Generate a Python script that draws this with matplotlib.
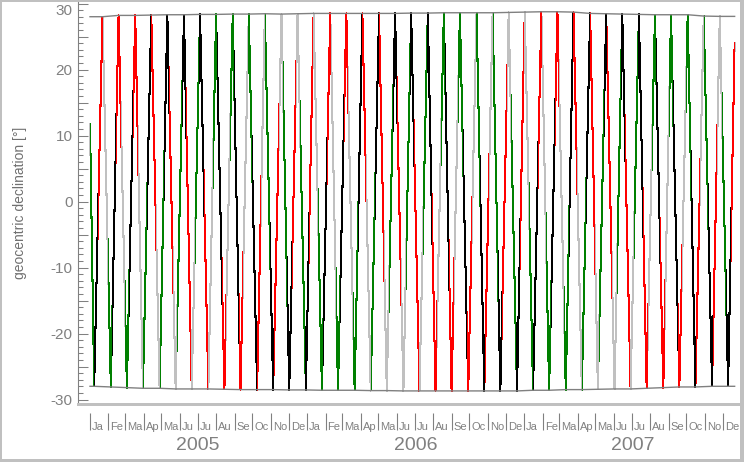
import numpy as np
import matplotlib
matplotlib.use('Agg')
import matplotlib.pyplot as plt
from matplotlib.path import Path
from matplotlib.patches import Rectangle
from matplotlib.ticker import MultipleLocator

# Moon's geocentric declination 2005-2007: dates and values of the turning points
peak_dates = ['2005-01-22', '2005-02-18', '2005-03-18', '2005-04-14', '2005-05-11', '2005-06-08',
              '2005-07-05', '2005-08-01', '2005-08-29', '2005-09-25', '2005-10-22', '2005-11-19',
              '2005-12-16', '2006-01-12', '2006-02-09', '2006-03-08', '2006-04-04', '2006-05-02',
              '2006-05-29', '2006-06-25', '2006-07-23', '2006-08-19', '2006-09-15', '2006-10-13',
              '2006-11-09', '2006-12-06', '2007-01-02', '2007-01-30', '2007-02-26', '2007-03-25',
              '2007-04-22', '2007-05-19', '2007-06-15', '2007-07-13', '2007-08-09', '2007-09-05',
              '2007-10-03', '2007-10-30', '2007-11-26']
peak_decl = [28.0, 28.2, 28.2, 28.25, 28.3, 28.3, 28.35, 28.35, 28.4, 28.4, 28.45, 28.4, 28.45,
             28.5, 28.5, 28.5, 28.5, 28.5, 28.5, 28.55, 28.55, 28.6, 28.6, 28.6, 28.6, 28.65,
             28.7, 28.75, 28.75, 28.7, 28.5, 28.45, 28.4, 28.35, 28.3, 28.3, 28.3, 28.1, 28.05]
trough_dates = ['2005-01-08', '2005-02-05', '2005-03-04', '2005-03-31', '2005-04-28', '2005-05-25',
                '2005-06-21', '2005-07-19', '2005-08-15', '2005-09-11', '2005-10-09', '2005-11-05',
                '2005-12-02', '2005-12-30', '2006-01-26', '2006-02-22', '2006-03-22', '2006-04-18',
                '2006-05-15', '2006-06-12', '2006-07-09', '2006-08-05', '2006-09-01', '2006-09-29',
                '2006-10-26', '2006-11-22', '2006-12-20', '2007-01-16', '2007-02-12', '2007-03-12',
                '2007-04-08', '2007-05-05', '2007-06-02', '2007-06-29', '2007-07-26', '2007-08-23',
                '2007-09-19', '2007-10-16', '2007-11-13', '2007-12-10']
trough_decl = [-28.0, -28.1, -28.2, -28.3, -28.3, -28.4, -28.4, -28.4, -28.45, -28.5,
               -28.5, -28.5, -28.55, -28.55, -28.6, -28.6, -28.6, -28.65, -28.65, -28.7,
               -28.7, -28.7, -28.7, -28.7, -28.7, -28.7, -28.7, -28.6, -28.6, -28.5,
               -28.5, -28.45, -28.4, -28.4, -28.3, -28.2, -28.1, -28.1, -28.0, -28.0]
start_date, start_decl = '2005-01-01', 11.8
end_date, end_decl = '2007-12-21', 24.0

# lunar phases; the curve is coloured by the nearest principal phase
new_moons = ['2005-01-10', '2005-02-08', '2005-03-10', '2005-04-08', '2005-05-08', '2005-06-06',
             '2005-07-06', '2005-08-05', '2005-09-03', '2005-10-03', '2005-11-02', '2005-12-01',
             '2005-12-31', '2006-01-29', '2006-02-28', '2006-03-29', '2006-04-27', '2006-05-27',
             '2006-06-25', '2006-07-25', '2006-08-23', '2006-09-22', '2006-10-22', '2006-11-20',
             '2006-12-20', '2007-01-19', '2007-02-17', '2007-03-19', '2007-04-17', '2007-05-16',
             '2007-06-15', '2007-07-14', '2007-08-12', '2007-09-11', '2007-10-11', '2007-11-09',
             '2007-12-09']
first_quarters = ['2005-01-17', '2005-02-16', '2005-03-17', '2005-04-16', '2005-05-16', '2005-06-15',
                  '2005-07-14', '2005-08-13', '2005-09-11', '2005-10-10', '2005-11-09', '2005-12-08',
                  '2006-01-06', '2006-02-05', '2006-03-06', '2006-04-05', '2006-05-05', '2006-06-03',
                  '2006-07-03', '2006-08-02', '2006-08-31', '2006-09-30', '2006-10-29', '2006-11-28',
                  '2006-12-27', '2007-01-25', '2007-02-24', '2007-03-25', '2007-04-24', '2007-05-23',
                  '2007-06-22', '2007-07-22', '2007-08-20', '2007-09-19', '2007-10-19', '2007-11-17',
                  '2007-12-17']
full_moons = ['2004-12-26', '2005-01-25', '2005-02-24', '2005-03-25', '2005-04-24', '2005-05-23',
              '2005-06-22', '2005-07-21', '2005-08-19', '2005-09-18', '2005-10-17', '2005-11-16',
              '2005-12-15', '2006-01-14', '2006-02-13', '2006-03-14', '2006-04-13', '2006-05-13',
              '2006-06-11', '2006-07-11', '2006-08-09', '2006-09-07', '2006-10-07', '2006-11-05',
              '2006-12-05', '2007-01-03', '2007-02-02', '2007-03-03', '2007-04-02', '2007-05-02',
              '2007-05-31', '2007-06-30', '2007-07-30', '2007-08-28', '2007-09-26', '2007-10-26',
              '2007-11-24', '2007-12-24']
last_quarters = ['2005-01-03', '2005-02-02', '2005-03-03', '2005-04-02', '2005-05-01', '2005-05-30',
                 '2005-06-28', '2005-07-28', '2005-08-26', '2005-09-25', '2005-10-25', '2005-11-23',
                 '2005-12-23', '2006-01-22', '2006-02-21', '2006-03-22', '2006-04-21', '2006-05-20',
                 '2006-06-18', '2006-07-17', '2006-08-16', '2006-09-14', '2006-10-14', '2006-11-12',
                 '2006-12-12', '2007-01-11', '2007-02-10', '2007-03-12', '2007-04-10', '2007-05-10',
                 '2007-06-08', '2007-07-07', '2007-08-05', '2007-09-03', '2007-10-03', '2007-11-01',
                 '2007-12-01', '2007-12-31']
phase_colors = {'new': 'black', 'first': '#ff0000', 'full': '#c0c0c0', 'last': '#008000'}
phase_shift = 1.5   # colour changes come this many days after the midpoint between phases

month_names = ['Ja', 'Fe', 'Ma', 'Ap', 'Ma', 'Ju', 'Ju', 'Au', 'Se', 'Oc', 'No', 'De']
years = [2005, 2006, 2007]

GRAY = '#808080'
LIGHT = '#c0c0c0'
W, H = 744, 462
plt.rcParams['font.family'] = ['Liberation Sans', 'DejaVu Sans']


def days(d):
    # days since 2005-01-01
    return (np.array(d, dtype='datetime64[D]') - np.datetime64('2005-01-01', 'D')).astype(float)


def px_rect(left, top, right, bottom, color):
    return Rectangle((left / W, 1 - bottom / H), (right - left) / W, (bottom - top) / H,
                     transform=fig.transFigure, facecolor=color, edgecolor='none', zorder=5)


# declination curve through the turning points
xs = [days(start_date)]
ys = [start_decl]
pd_, td_ = days(peak_dates), days(trough_dates)
for i in range(len(trough_dates)):
    xs.append(td_[i]); ys.append(trough_decl[i])
    if i < len(peak_dates):
        xs.append(pd_[i]); ys.append(peak_decl[i])
xs.append(days(end_date)); ys.append(end_decl)

# phase regions: from midpoint with previous phase to midpoint with next
events = []
for key, lst in [('new', new_moons), ('first', first_quarters), ('full', full_moons), ('last', last_quarters)]:
    events += [(d, key) for d in days(lst)]
events.sort()
regions = {k: [] for k in phase_colors}
for i, (d, key) in enumerate(events):
    lo = (events[i - 1][0] + d) / 2 if i > 0 else d - 4
    hi = (events[i + 1][0] + d) / 2 if i < len(events) - 1 else d + 4
    regions[key].append((lo + phase_shift, hi + phase_shift))

x_lo, x_hi = -20.2, 1093.0
y_lo, y_hi = -30.53, 30.23

fig = plt.figure(figsize=(W / 100, H / 100), dpi=100)
ax = fig.add_axes([78 / W, (H - 403) / H, (740 - 78) / W, (403 - 2) / H])
ax.set_xlim(x_lo, x_hi)
ax.set_ylim(y_lo, y_hi)

for key, col in phase_colors.items():
    verts, codes = [], []
    for lo, hi in regions[key]:
        verts += [(lo, -100), (hi, -100), (hi, 100), (lo, 100), (lo, -100)]
        codes += [Path.MOVETO, Path.LINETO, Path.LINETO, Path.LINETO, Path.CLOSEPOLY]
    ln, = ax.plot(xs, ys, color=col, lw=0.75, antialiased=False)
    ln.set_clip_path(Path(verts, codes), ax.transData)

# envelope of the extremes
top_x = [days(start_date)] + list(pd_) + [days(end_date)]
top_y = [peak_decl[0]] + peak_decl + [peak_decl[-1]]
bot_x = [days(start_date)] + list(td_) + [days(end_date)]
bot_y = [trough_decl[0]] + trough_decl + [trough_decl[-1]]
ax.plot(top_x, top_y, color=GRAY, lw=1.0, zorder=3)
ax.plot(bot_x, bot_y, color=GRAY, lw=1.0, zorder=3)

for s in ['top', 'right', 'bottom']:
    ax.spines[s].set_visible(False)
ax.spines['left'].set_color(GRAY)
ax.spines['left'].set_linewidth(0.8)
ax.set_xticks([])
yt = np.arange(-30, 31, 5)
ax.set_yticks(yt)
ax.set_yticklabels([str(v) if v % 10 == 0 else '' for v in yt])
ax.yaxis.set_minor_locator(MultipleLocator(1))
ax.tick_params(axis='y', which='major', direction='in', length=7.2, width=0.75,
               color=GRAY, labelcolor=GRAY, labelsize=11, pad=4)
ax.tick_params(axis='y', which='minor', direction='in', length=3.6, width=0.75, color=GRAY)
ax.get_yticklabels()[-1].set_va('top')
ax.set_ylabel('geocentric declination [°]', color='#707070', fontsize=10)
ax.yaxis.set_label_coords(-51 / 662, 0.5)

# date band below the plot, y given in image pixel rows
ax2 = fig.add_axes([78 / W, 0, (740 - 78) / W, (H - 405) / H])
ax2.set_xlim(x_lo, x_hi)
ax2.set_ylim(H, 405)
ax2.axis('off')
month_starts = days(np.arange('2005-01', '2008-01', dtype='datetime64[M]').astype('datetime64[D]'))
ax2.vlines(month_starts, 413, 430, color=GRAY, lw=0.8)
for i, m in enumerate(month_starts):
    ax2.annotate(month_names[i % 12], (m, 430), xytext=(1.5, 0), textcoords='offset points',
                 ha='left', va='baseline', color=GRAY, fontsize=8)
for y in years:
    ax2.text(days(f'{y}-07-02'), 445, str(y), ha='center', va='center', color=GRAY, fontsize=14)

# frame and separator
fig.add_artist(px_rect(0, 0, 2, H, LIGHT))
fig.add_artist(px_rect(0, 0, W, 2, LIGHT))
fig.add_artist(px_rect(740, 0, W, H, LIGHT))
fig.add_artist(px_rect(0, 459, W, H, LIGHT))
fig.add_artist(px_rect(77, 403, W, 405.5, LIGHT))

fig.savefig('out.png', dpi=100)
